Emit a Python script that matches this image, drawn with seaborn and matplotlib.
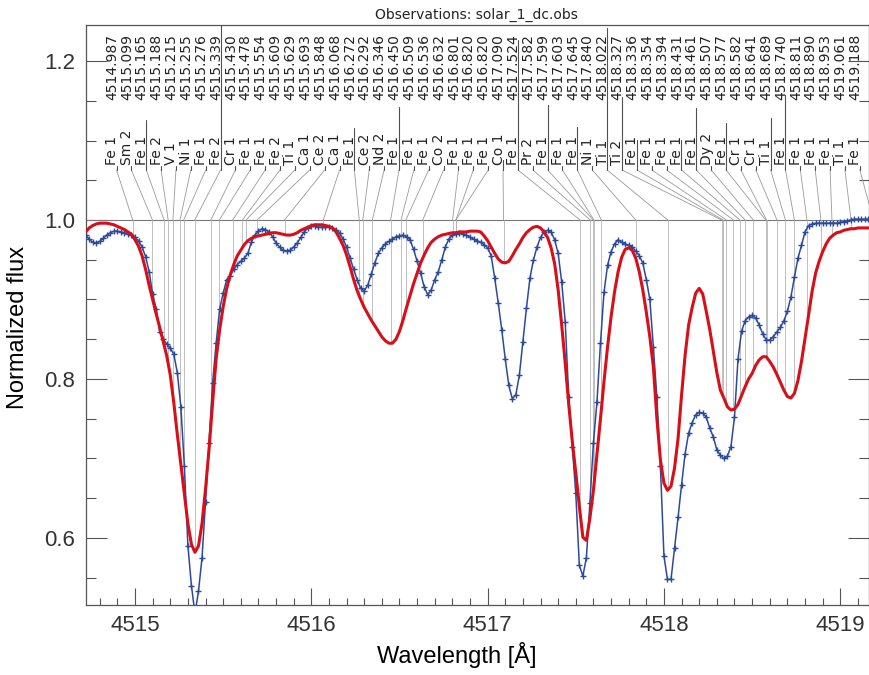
import numpy as np
import pandas as pd
import matplotlib
matplotlib.use("Agg")
import matplotlib.pyplot as plt
from matplotlib.ticker import MultipleLocator
import seaborn as sns

# -------------------------------------------------
# Spectra, both sampled every 0.02 A starting at 4514.72 A
# -------------------------------------------------
wave_start = 4514.72
wave_step = 0.02

obs_flux = [
    0.981, 0.976, 0.972, 0.971, 0.973, 0.977, 0.981, 0.984, 0.986, 0.986,   # 4514.72
    0.985, 0.984, 0.983, 0.981, 0.978, 0.974, 0.966, 0.954, 0.935, 0.907,   # 4514.92
    0.888, 0.859, 0.850, 0.844, 0.839, 0.831, 0.808, 0.765, 0.690, 0.590,   # 4515.12
    0.540, 0.505, 0.533, 0.575, 0.645, 0.720, 0.795, 0.845, 0.888, 0.908,   # 4515.32
    0.925, 0.930, 0.938, 0.944, 0.948, 0.952, 0.958, 0.972, 0.981, 0.986,   # 4515.52
    0.989, 0.988, 0.985, 0.979, 0.971, 0.966, 0.962, 0.961, 0.962, 0.966,   # 4515.72
    0.971, 0.978, 0.985, 0.990, 0.992, 0.992, 0.991, 0.991, 0.991, 0.991,   # 4515.92
    0.990, 0.988, 0.984, 0.976, 0.966, 0.952, 0.938, 0.925, 0.914, 0.911,   # 4516.12
    0.918, 0.932, 0.946, 0.958, 0.965, 0.970, 0.973, 0.976, 0.979, 0.980,   # 4516.32
    0.981, 0.979, 0.975, 0.963, 0.948, 0.933, 0.916, 0.906, 0.912, 0.925,   # 4516.52
    0.935, 0.950, 0.966, 0.976, 0.981, 0.983, 0.984, 0.983, 0.981, 0.978,   # 4516.72
    0.976, 0.974, 0.972, 0.969, 0.965, 0.955, 0.927, 0.896, 0.862, 0.825,   # 4516.92
    0.792, 0.775, 0.780, 0.805, 0.847, 0.889, 0.927, 0.950, 0.966, 0.978,   # 4517.12
    0.985, 0.987, 0.985, 0.975, 0.958, 0.922, 0.872, 0.777, 0.715, 0.656,   # 4517.32
    0.566, 0.552, 0.575, 0.644, 0.720, 0.771, 0.845, 0.909, 0.943, 0.960,   # 4517.52
    0.970, 0.975, 0.972, 0.970, 0.968, 0.966, 0.961, 0.955, 0.946, 0.925,   # 4517.72
    0.900, 0.840, 0.777, 0.690, 0.577, 0.548, 0.548, 0.587, 0.626, 0.667,   # 4517.92
    0.706, 0.732, 0.745, 0.755, 0.758, 0.757, 0.752, 0.738, 0.727, 0.711,   # 4518.12
    0.704, 0.700, 0.703, 0.715, 0.752, 0.825, 0.860, 0.873, 0.878, 0.880,   # 4518.32
    0.877, 0.868, 0.857, 0.849, 0.849, 0.853, 0.859, 0.865, 0.873, 0.885,   # 4518.52
    0.903, 0.928, 0.952, 0.968, 0.985, 0.993, 0.995, 0.996, 0.996, 0.996,   # 4518.72
    0.996, 0.996, 0.996, 0.996, 0.997, 0.998, 0.999, 1.000, 1.001, 1.001,   # 4518.92
    1.001, 1.001, 1.001,                                                    # 4519.12
]

syn_flux = [
    0.985, 0.990, 0.993, 0.995, 0.996, 0.996, 0.996, 0.995, 0.994, 0.992,   # 4514.72
    0.990, 0.988, 0.985, 0.982, 0.975, 0.967, 0.955, 0.938, 0.918, 0.900,   # 4514.92
    0.882, 0.865, 0.847, 0.829, 0.805, 0.770, 0.730, 0.693, 0.655, 0.618,   # 4515.12
    0.592, 0.582, 0.590, 0.618, 0.662, 0.712, 0.770, 0.825, 0.862, 0.891,   # 4515.32
    0.914, 0.931, 0.944, 0.955, 0.962, 0.969, 0.974, 0.977, 0.979, 0.980,   # 4515.52
    0.981, 0.982, 0.983, 0.984, 0.984, 0.983, 0.982, 0.981, 0.981, 0.982,   # 4515.72
    0.984, 0.987, 0.989, 0.991, 0.993, 0.994, 0.994, 0.994, 0.993, 0.992,   # 4515.92
    0.990, 0.985, 0.977, 0.968, 0.956, 0.941, 0.925, 0.911, 0.900, 0.890,   # 4516.12
    0.882, 0.874, 0.867, 0.860, 0.853, 0.848, 0.845, 0.845, 0.850, 0.860,   # 4516.32
    0.874, 0.890, 0.905, 0.920, 0.933, 0.946, 0.956, 0.965, 0.972, 0.976,   # 4516.52
    0.979, 0.981, 0.982, 0.983, 0.984, 0.984, 0.985, 0.985, 0.985, 0.986,   # 4516.72
    0.986, 0.986, 0.985, 0.980, 0.974, 0.966, 0.958, 0.951, 0.947, 0.946,   # 4516.92
    0.948, 0.955, 0.963, 0.970, 0.978, 0.984, 0.988, 0.991, 0.992, 0.990,   # 4517.12
    0.985, 0.978, 0.965, 0.945, 0.912, 0.868, 0.820, 0.768, 0.722, 0.682,   # 4517.32
    0.640, 0.601, 0.597, 0.625, 0.660, 0.705, 0.750, 0.797, 0.840, 0.878,   # 4517.52
    0.910, 0.935, 0.953, 0.963, 0.965, 0.962, 0.952, 0.935, 0.912, 0.884,   # 4517.72
    0.853, 0.815, 0.750, 0.698, 0.669, 0.660, 0.665, 0.688, 0.725, 0.780,   # 4517.92
    0.830, 0.868, 0.890, 0.908, 0.914, 0.907, 0.885, 0.862, 0.835, 0.808,   # 4518.12
    0.786, 0.776, 0.765, 0.761, 0.762, 0.768, 0.779, 0.790, 0.800, 0.807,   # 4518.32
    0.817, 0.824, 0.828, 0.828, 0.822, 0.815, 0.806, 0.796, 0.786, 0.778,   # 4518.52
    0.776, 0.782, 0.798, 0.822, 0.851, 0.880, 0.910, 0.933, 0.948, 0.960,   # 4518.72
    0.970, 0.977, 0.981, 0.984, 0.985, 0.987, 0.988, 0.989, 0.989, 0.990,   # 4518.92
    0.990, 0.990, 0.990,                                                    # 4519.12
]

# -------------------------------------------------
# Line identifications
# -------------------------------------------------
line_waves = [
    4514.987, 4515.099, 4515.165, 4515.188, 4515.215, 4515.255, 4515.276,
    4515.339, 4515.430, 4515.478, 4515.554, 4515.609, 4515.629, 4515.693,
    4515.848, 4516.068, 4516.272, 4516.292, 4516.346, 4516.450, 4516.509,
    4516.536, 4516.632, 4516.801, 4516.820, 4516.820, 4517.090, 4517.524,
    4517.582, 4517.599, 4517.603, 4517.645, 4517.840, 4518.022, 4518.327,
    4518.336, 4518.354, 4518.394, 4518.431, 4518.461, 4518.507, 4518.577,
    4518.582, 4518.641, 4518.689, 4518.740, 4518.811, 4518.890, 4518.953,
    4519.061, 4519.188,
]
line_species = [
    "Fe 1", "Sm 2", "Fe 1", "Fe 2", "V 1", "Ni 1", "Fe 1",
    "Fe 2", "Cr 1", "Fe 1", "Fe 1", "Fe 2", "Ti 1", "Ca 1",
    "Ce 2", "Ca 1", "Fe 1", "Ce 2", "Nd 2", "Fe 1", "Fe 1",
    "Fe 1", "Co 2", "Fe 1", "Fe 1", "Fe 1", "Co 1", "Fe 1",
    "Pr 2", "Fe 1", "Fe 1", "Fe 1", "Ni 1", "Ti 1", "Ti 2",
    "Fe 1", "Fe 1", "Fe 1", "Fe 1", "Fe 1", "Dy 2", "Fe 1",
    "Cr 1", "Cr 1", "Ti 1", "Fe 1", "Fe 1", "Fe 1", "Fe 1",
    "Ti 1", "Fe 1",
]
# strength marks (top of the marker stroke, flux units) for the stronger lines
strong_marks = {
    2: 1.126, 7: 1.245, 16: 1.116, 19: 1.142, 26: 1.076, 27: 1.226,
    29: 1.145, 31: 1.117, 33: 1.242, 34: 1.155, 35: 1.101, 38: 1.101,
    39: 1.141, 41: 1.122, 44: 1.128, 45: 1.157,
}

wave = np.round(wave_start + wave_step * np.arange(len(obs_flux)), 3)
df = pd.DataFrame({"wave": wave, "obs": obs_flux, "syn": syn_flux})

BLUE = "#2c4a9b"
RED = "#d60f19"

sns.set_theme(style="ticks")
plt.rcParams["font.family"] = ["Liberation Sans", "DejaVu Sans"]

fig = plt.figure(figsize=(8.69, 6.75), dpi=100)
ax = fig.add_axes([86 / 869, 70 / 675, 783 / 869, 580 / 675])

# -------------------------------------------------
# line id connectors
# -------------------------------------------------
label_x = np.linspace(4514.895, 4519.111, len(line_waves))
syn_at_line = np.interp(line_waves, df["wave"], df["syn"])
ax.axhline(1.0, color="#7a7a7a", lw=0.8, zorder=1)
for i, (w, sp) in enumerate(zip(line_waves, line_species)):
    lx = label_x[i]
    ax.plot([w, w], [syn_at_line[i], 1.0], color="#b4b4b4", lw=0.6, zorder=1)
    ax.plot([w, lx], [1.0, 1.063], color="#9a9a9a", lw=0.6, zorder=1)
    top = strong_marks.get(i, 1.068)
    ax.plot([lx, lx], [1.063, top], color="#505050", lw=0.8, zorder=1)
    ax.text(lx - 0.0255, 1.069, sp, rotation=90, ha="center", va="bottom",
            fontsize=10, family="DejaVu Sans", color="#222222")
    ax.text(lx - 0.0255, 1.151, f"{w:.3f}", rotation=90, ha="center", va="bottom",
            fontsize=10, family="DejaVu Sans", color="#222222")

# -------------------------------------------------
# spectra
# -------------------------------------------------
sns.lineplot(data=df, x="wave", y="obs", ax=ax, color=BLUE, lw=1.1,
             marker="+", markersize=4, markeredgewidth=1.0,
             markeredgecolor=BLUE, sort=False, zorder=3)
sns.lineplot(data=df, x="wave", y="syn", ax=ax, color=RED, lw=2.2,
             sort=False, zorder=4)

ax.set_xlim(4514.722, 4519.163)
ax.set_ylim(0.5157, 1.2453)

ax.xaxis.set_major_locator(MultipleLocator(1))
ax.xaxis.set_minor_locator(MultipleLocator(0.1))
ax.yaxis.set_major_locator(MultipleLocator(0.2))
ax.yaxis.set_minor_locator(MultipleLocator(0.05))

ax.tick_params(axis="x", which="both", direction="in", top=False, bottom=True,
               color="#555555", labelcolor="#333333", labelsize=16, pad=7)
ax.tick_params(axis="x", which="major", length=12, width=0.8)
ax.tick_params(axis="x", which="minor", length=5, width=0.8)
ax.tick_params(axis="y", which="both", direction="in", left=True, right=True,
               color="#555555", labelcolor="#333333", labelsize=16, pad=8)
ax.tick_params(axis="y", which="major", length=15, width=0.8)
ax.tick_params(axis="y", which="minor", length=7, width=0.8)

for sp in ax.spines.values():
    sp.set_color("#555555")
    sp.set_linewidth(0.9)

ax.set_xlabel("Wavelength [Å]", fontsize=17, color="black")
ax.set_ylabel("Normalized flux", fontsize=17, color="black")
ax.xaxis.label.set_va("center")
ax.yaxis.label.set_va("center")
ax.xaxis.set_label_coords(0.474, -0.086)
ax.yaxis.set_label_coords(-0.087, 0.479)

fig.text(476.7 / 869, 1 - 15 / 675, "Observations: solar_1_dc.obs",
         ha="center", va="center", fontsize=10, family="DejaVu Sans", color="#222222")

fig.savefig("out.png", dpi=100, facecolor="white")
